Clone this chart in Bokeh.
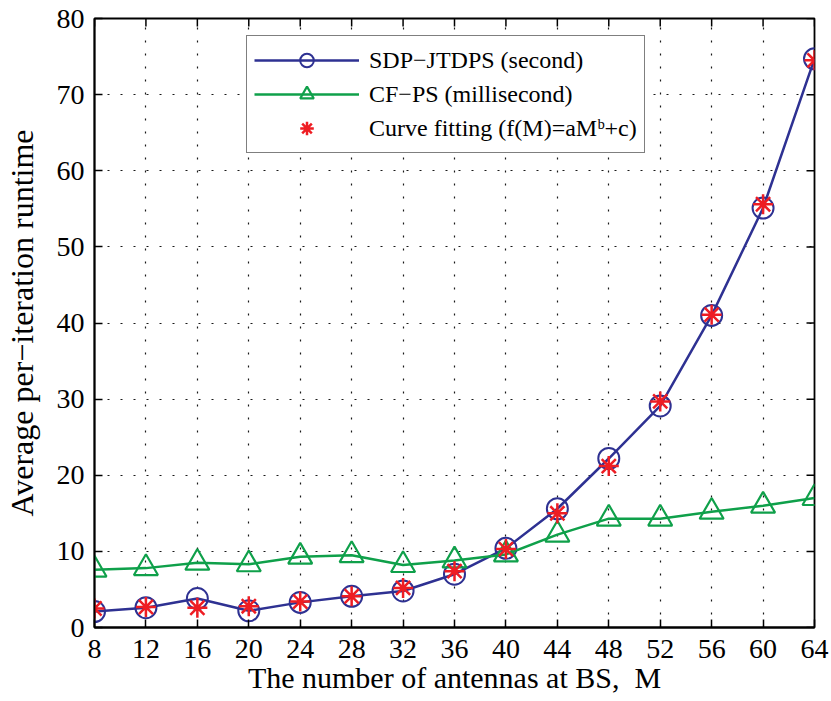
from bokeh.plotting import figure
from bokeh.models import Range1d, Legend, LegendItem, FixedTicker
from bokeh.embed import file_html
from bokeh.resources import INLINE

# ---- data ----
M = [8, 12, 16, 20, 24, 28, 32, 36, 40, 44, 48, 52, 56, 60, 64]
sdp_jtdps = [2.1, 2.6, 3.8, 2.2, 3.3, 4.1, 4.8, 7.0, 10.4, 15.6, 22.2, 29.1, 41.0, 55.1, 74.7]
cf_ps = [7.6, 7.8, 8.5, 8.3, 9.3, 9.5, 8.2, 8.8, 9.6, 12.2, 14.3, 14.3, 15.2, 16.0, 17.0]
curve_fit = [2.5, 2.7, 2.6, 2.8, 3.4, 4.1, 5.2, 7.4, 10.3, 15.0, 21.2, 29.7, 41.1, 55.6, 74.5]
x_ticks = [8, 12, 16, 20, 24, 28, 32, 36, 40, 44, 48, 52, 56, 60, 64]
y_ticks = [0, 10, 20, 30, 40, 50, 60, 70, 80]
x_min, x_max = 8, 64
y_min, y_max = 0, 80

BLUE = "#2e3192"
GREEN = "#0fa04a"
RED = "#ee1d23"
FONT = "Liberation Serif"

p = figure(width=829, height=699, output_backend="svg", toolbar_location=None,
           x_range=Range1d(x_min, x_max), y_range=Range1d(y_min, y_max),
           min_border_left=93, min_border_right=15, min_border_top=18, min_border_bottom=72,
           background_fill_color="white", border_fill_color="white")

p.outline_line_color = "black"
p.outline_line_width = 1.8

for ax in (p.xaxis[0], p.yaxis[0]):
    ax.major_tick_in = 8
    ax.major_tick_out = 0
    ax.minor_tick_line_color = None
    ax.axis_line_width = 1.8
    ax.major_tick_line_width = 1.5
    ax.major_label_text_font = FONT
    ax.major_label_text_font_size = "28px"
    ax.major_label_text_color = "black"
    ax.axis_label_text_font = FONT
    ax.axis_label_text_font_style = "normal"
    ax.axis_label_text_color = "black"

p.xaxis.axis_label_text_font_size = "30px"
p.yaxis.axis_label_text_font_size = "32px"
p.xaxis.ticker = FixedTicker(ticks=x_ticks)
p.yaxis.ticker = FixedTicker(ticks=y_ticks)
p.xaxis.major_label_standoff = 12
p.yaxis.major_label_standoff = 10
p.xaxis.axis_label_standoff = 0
p.yaxis.axis_label_standoff = 14
p.xaxis.axis_label = "The number of antennas at BS,\u00a0\u00a0M"
p.yaxis.axis_label = "Average per\u2212iteration runtime"

for g in (p.xgrid[0], p.ygrid[0]):
    g.grid_line_color = "black"
    g.grid_line_dash = "2 11"
    g.grid_line_width = 1.2
    g.grid_line_alpha = 0.9
p.xgrid.ticker = FixedTicker(ticks=x_ticks)
p.ygrid.ticker = FixedTicker(ticks=y_ticks)

# inward box ticks on the top and right edges (Matlab style)
tick_len_y = 8 * (y_max - y_min) / 609.0
tick_len_x = 8 * (x_max - x_min) / 721.0
p.segment(x0=x_ticks, y0=[y_max] * len(x_ticks), x1=x_ticks,
          y1=[y_max - tick_len_y] * len(x_ticks), line_color="black", line_width=1.5)
p.segment(x0=[x_max] * len(y_ticks), y0=y_ticks, x1=[x_max - tick_len_x] * len(y_ticks),
          y1=y_ticks, line_color="black", line_width=1.5)

l1 = p.line(M, sdp_jtdps, line_color=BLUE, line_width=2.5)
s1 = p.scatter(M, sdp_jtdps, marker="circle", size=21, fill_color=None,
               line_color=BLUE, line_width=2)
l2 = p.line(M, cf_ps, line_color=GREEN, line_width=2.5)
s2 = p.scatter(M, cf_ps, marker="triangle", size=24, fill_color=None,
               line_color=GREEN, line_width=2.2)
s3 = p.scatter(M, curve_fit, marker="asterisk", size=20, line_color=RED, line_width=2.5)

legend = Legend(items=[
    LegendItem(label="SDP\u2212JTDPS (second)", renderers=[l1, s1]),
    LegendItem(label="CF\u2212PS (millisecond)", renderers=[l2, s2]),
    LegendItem(label="Curve fitting (f(M)=aM\u1d47+c)", renderers=[s3]),
], location=(152, 474))
legend.label_text_font = FONT
legend.label_text_font_size = "24px"
legend.label_text_color = "black"
legend.glyph_width = 105
legend.glyph_height = 34
legend.label_height = 34
legend.spacing = 0
legend.padding = 7
legend.margin = 0
legend.label_standoff = 10
legend.border_line_color = "black"
legend.border_line_width = 1.5
legend.background_fill_alpha = 1
p.add_layout(legend, "center")

open("out.html", "w").write(file_html(p, INLINE))
